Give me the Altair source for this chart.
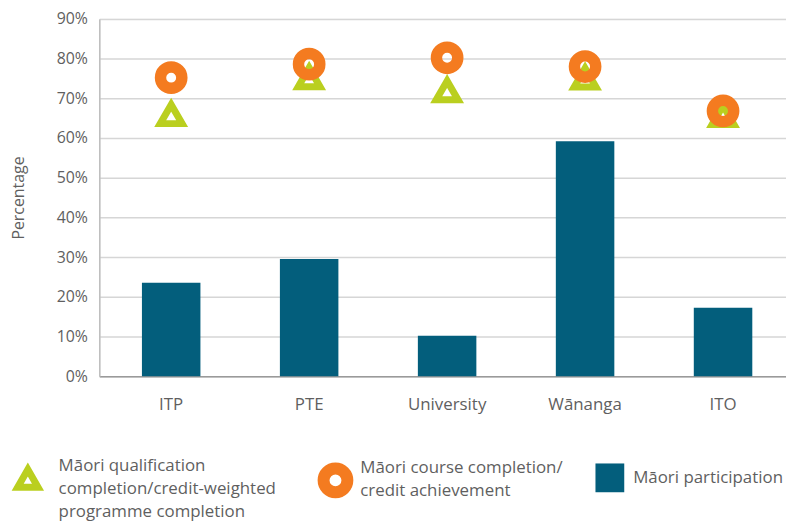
import altair as alt
import pandas as pd

institutions = ["ITP", "PTE", "University", "Wānanga", "ITO"]
participation = [23.5, 29.5, 10.2, 59.2, 17.2]
course_completion = [75.2, 78.6, 80.2, 78.0, 66.8]
qualification_completion = [66.0, 75.3, 72.0, 75.2, 65.8]
y_ticks = [0, 10, 20, 30, 40, 50, 60, 70, 80, 90]

label_qual = "Māori qualification|completion/credit-weighted|programme completion"
label_course = "Māori course completion/|credit achievement"
label_part = "Māori participation"

TEAL = "#035e7c"
ORANGE = "#f47b20"
LIME = "#bacf1f"
TEXT = "#5f5f5f"
FONT = "Open Sans"

df = pd.DataFrame({
    "institution": institutions,
    "participation": participation,
    "course": course_completion,
    "qual": qualification_completion,
})

x_enc = alt.X(
    "institution:N",
    sort=institutions,
    scale=alt.Scale(paddingInner=0.576, paddingOuter=0.309),
    axis=alt.Axis(title=None, labelAngle=0, ticks=False, domainColor="#9a9a9a",
                  domainWidth=1.5, labelPadding=21, labelFontSize=17,
                  labelColor=TEXT, labelFont=FONT),
)

y_axis = alt.Axis(values=y_ticks, labelExpr="datum.value + '%'", title="Percentage",
                  grid=True, gridColor="#d6d6d6", gridWidth=1.5, ticks=False,
                  domainColor="#bdbdbd", domainWidth=1.5, labelPadding=12,
                  labelFontSize=16, labelColor=TEXT, labelFont=FONT,
                  titleFontSize=16, titleFont=FONT, titleFontWeight="normal",
                  titleColor=TEXT, titlePadding=11, minExtent=62, maxExtent=62)
y_scale = alt.Scale(domain=[0, 90])


def legend(x, y, size, stroke_w, shape, offset, baseline):
    return alt.Legend(title=None, orient="none", legendX=x, legendY=y,
                      symbolSize=size, symbolStrokeWidth=stroke_w, symbolType=shape,
                      labelExpr="split(datum.label, '|')", labelFontSize=17,
                      labelColor=TEXT, labelFont=FONT, labelLimit=400,
                      labelOffset=offset, labelBaseline=baseline)


base = alt.Chart(df)

bars = base.transform_calculate(s_part=f'"{label_part}"').mark_bar(color=TEAL).encode(
    x=x_enc,
    y=alt.Y("participation:Q", scale=y_scale, axis=y_axis),
    color=alt.Color("s_part:N", scale=alt.Scale(range=[TEAL]),
                    legend=legend(500, 448, 841, 0, "square", 9, "middle")),
)

tri = base.transform_calculate(s_qual=f'"{label_qual}"').mark_point(
    shape="triangle-up", filled=False, strokeWidth=7, size=484, opacity=1,
    strokeJoin="miter").encode(
    x=x_enc,
    y=alt.Y("qual:Q", scale=y_scale, axis=y_axis),
    color=alt.Color("s_qual:N", scale=alt.Scale(range=[LIME]),
                    legend=legend(-86, 449, 420, 7, "triangle-up", 17, "line-bottom")),
)

ring = base.transform_calculate(s_course=f'"{label_course}"').mark_point(
    shape="circle", filled=False, strokeWidth=11.5, size=462, opacity=1).encode(
    x=x_enc,
    y=alt.Y("course:Q", scale=y_scale, axis=y_axis),
    color=alt.Color("s_course:N", scale=alt.Scale(range=[ORANGE]),
                    legend=legend(220, 447, 576, 12, "circle", 7, "line-bottom")),
)

chart = alt.layer(bars, tri, ring).resolve_scale(color="independent").properties(
    width=701, height=360,
    autosize=alt.AutoSizeParams(type="none"),
    padding={"left": 92, "top": 9, "right": -9, "bottom": 144},
).configure_view(stroke=None).configure(
    background="white",
    style={"guide-label": {"lineHeight": 23}},
)

chart.save("out.html", embed_options={"renderer": "svg", "actions": False})
